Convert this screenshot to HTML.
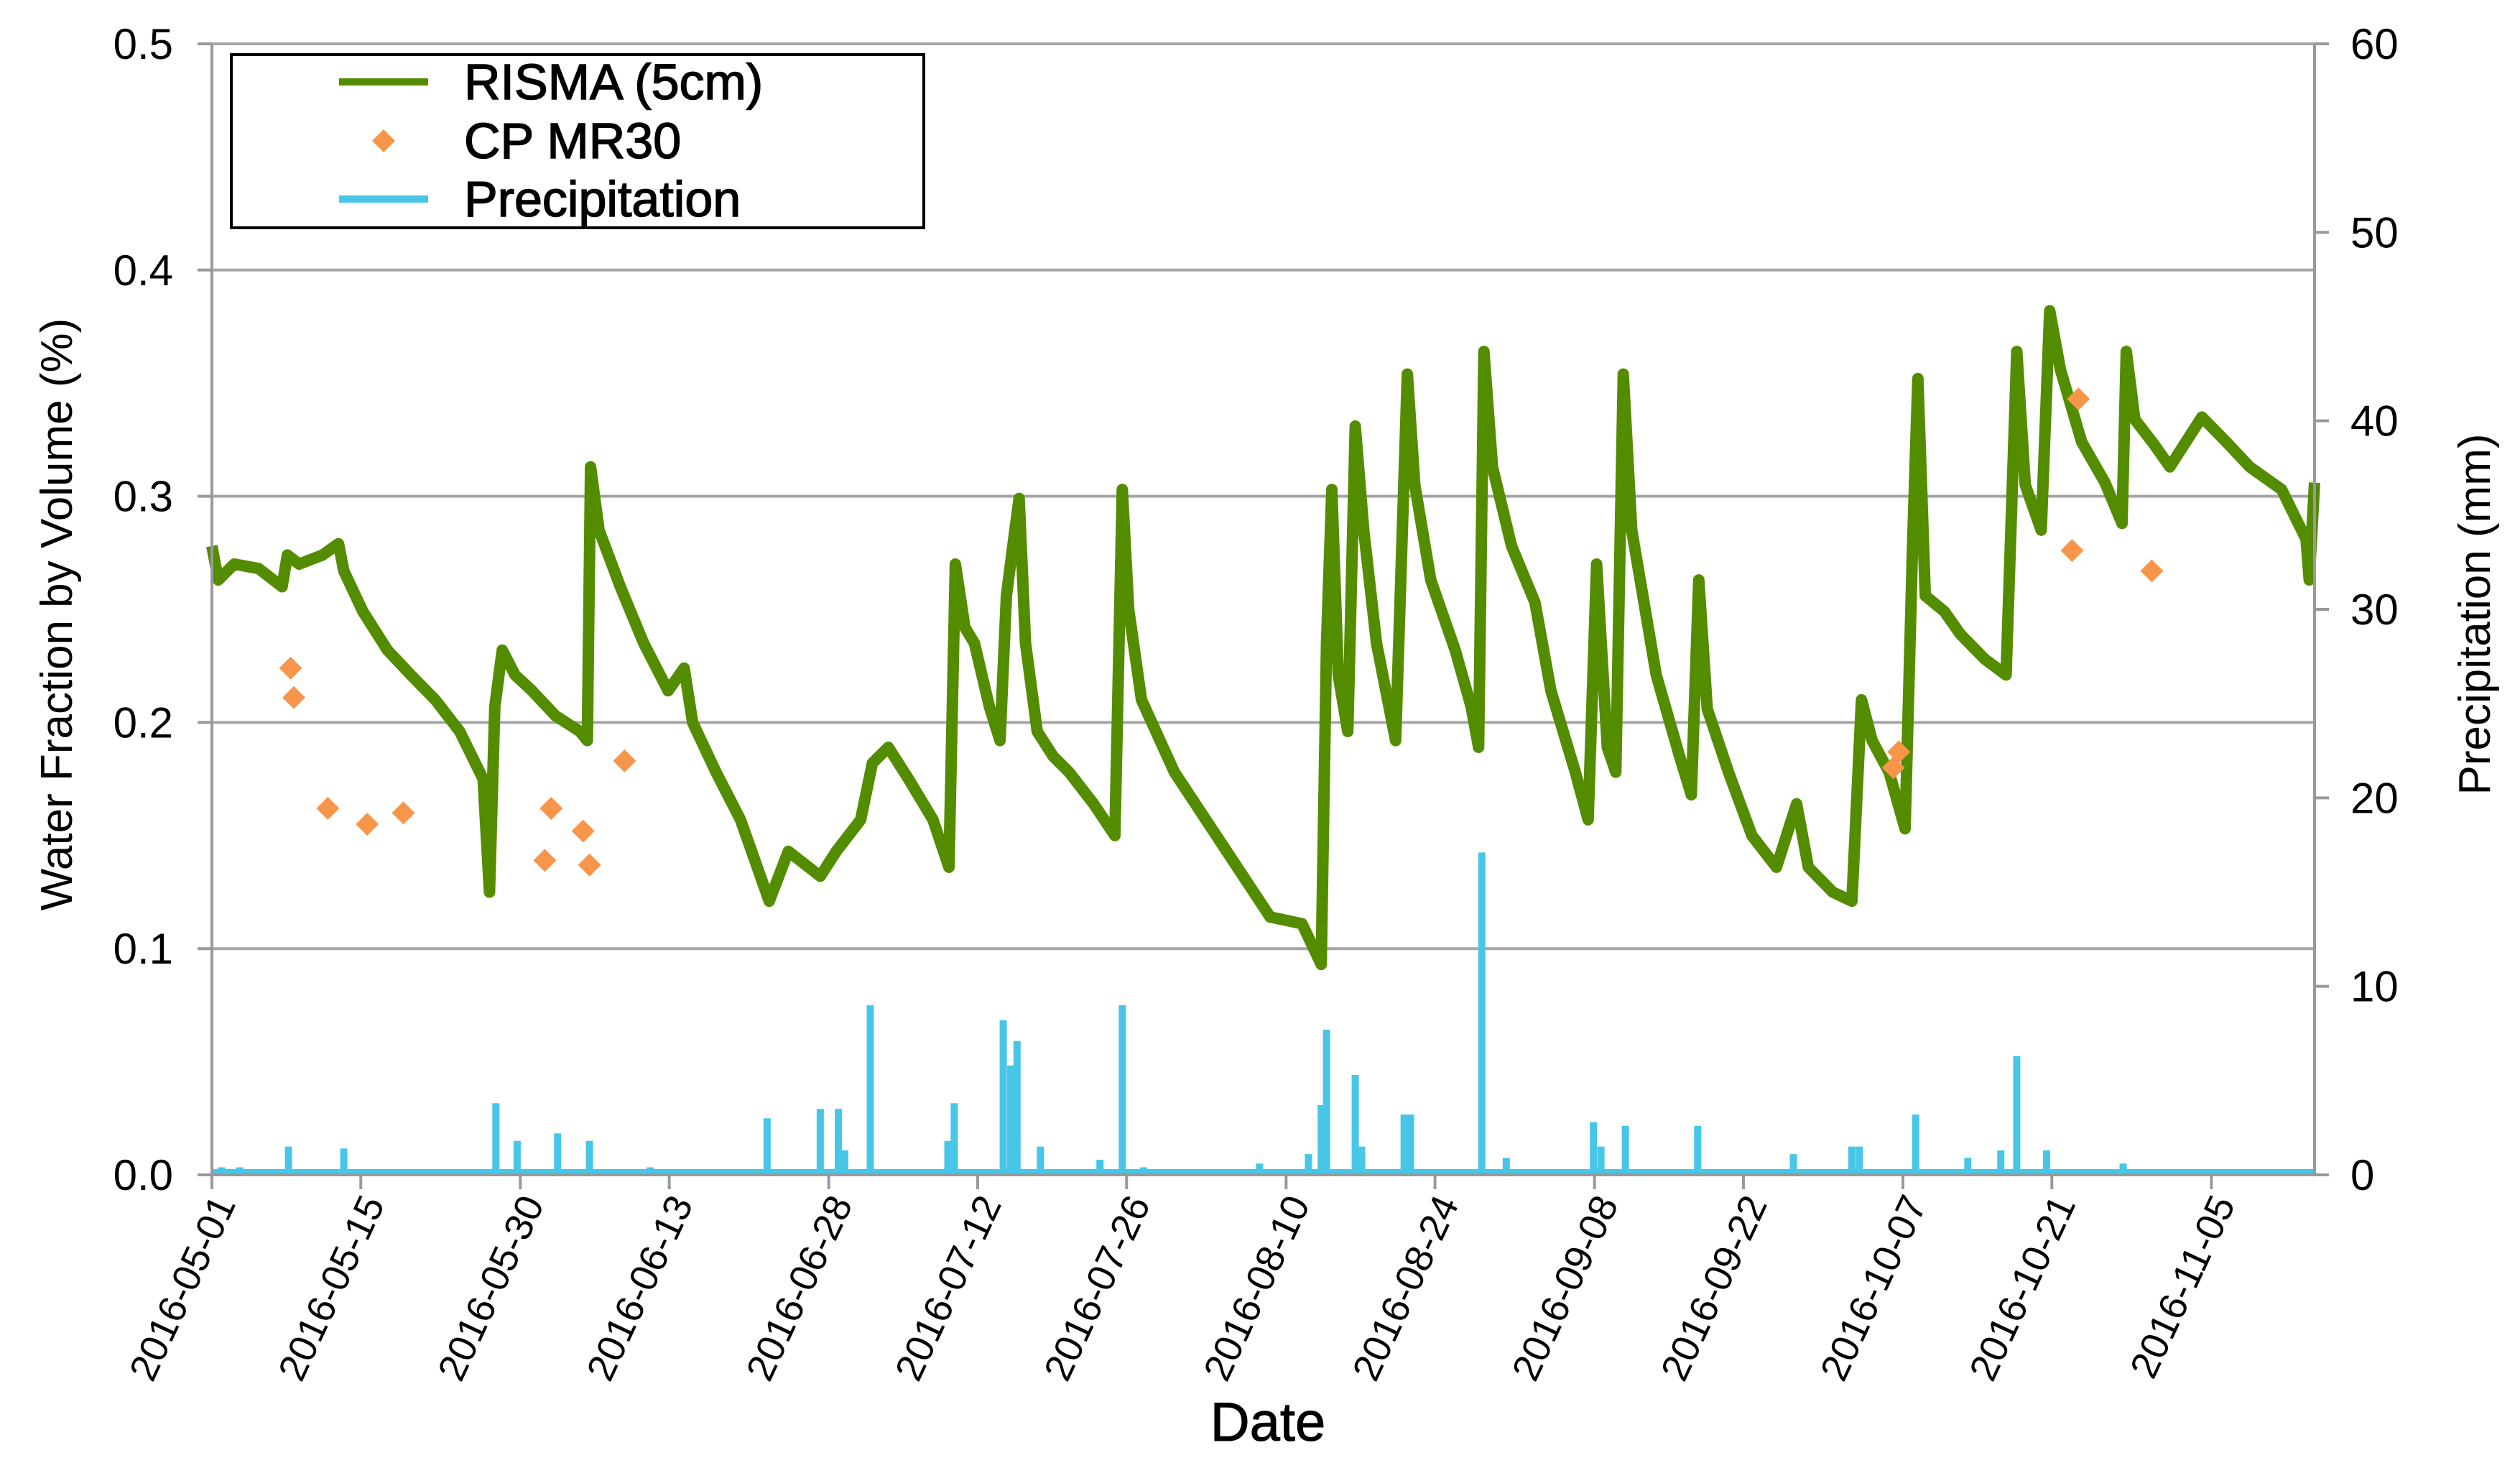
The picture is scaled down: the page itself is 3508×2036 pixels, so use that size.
<!DOCTYPE html>
<html><head><meta charset="utf-8"><style>
html,body{margin:0;padding:0;background:#fff;}
svg{display:block;font-family:"Liberation Sans",Arial,sans-serif;}
</style></head><body>
<svg id="chart" width="3508" height="2036" viewBox="0 0 3508 2036">
<g id="grid"></g>
<g id="precip"></g>
<g id="risma"></g>
<g id="cp"></g>
<g id="axes"></g>
<g>
<rect x="322" y="76" width="964" height="241" fill="#fff" stroke="#000" stroke-width="4"/>
<g><line x1="472" y1="114" x2="596" y2="114" stroke="#548c00" stroke-width="10"/><text x="646" y="138" font-size="70" stroke="#000" stroke-width="1.5">RISMA (5cm)</text></g>
<g><polygon points="534,180 550,196 534,212 518,196" fill="#f7964a"/><text x="646" y="220" font-size="70" stroke="#000" stroke-width="1.5">CP MR30</text></g>
<g><line x1="472" y1="277" x2="596" y2="277" stroke="#47c6e8" stroke-width="10"/><text x="646" y="301" font-size="70" stroke="#000" stroke-width="1.5">Precipitation</text></g>
</g>
<text x="0" y="0" font-size="62" text-anchor="middle" transform="translate(100,855) rotate(-90)">Water Fraction by Volume (%)</text>
<text x="0" y="0" font-size="62" text-anchor="middle" transform="translate(3466,855) rotate(-90)">Precipitation (mm)</text>
<text x="1765" y="2005" font-size="76" text-anchor="middle" stroke="#000" stroke-width="1">Date</text>
</svg>
<script>
const risDays=[0,0.6,2.1,4.4,6.6,7.1,8.2,10.4,11.9,12.4,14.2,16.5,18.7,21.0,23.3,25.5,26.1,26.6,27.3,28.5,30.1,32.3,34.6,35.3,35.6,36.4,38.4,40.6,42.9,44.4,45.2,47.4,49.7,52.4,54.2,57.2,58.7,61.0,62.1,63.6,65.5,67.8,69.3,69.9,70.8,71.7,73.1,74.1,74.7,75.5,75.9,76.5,77.6,79.1,80.6,82.9,84.9,85.6,86.2,87.4,90.5,95.0,99.5,102.5,104.3,104.8,105.3,105.9,106.8,107.5,108.3,109.5,111.3,112.4,113.1,114.6,116.9,118.4,119.1,119.6,120.4,122.2,124.4,125.9,128.2,129.4,130.2,131.2,132.0,132.7,133.5,135.8,138.0,139.1,139.8,140.6,142.6,144.8,147.1,149.0,150.1,152.4,154.2,155.1,156.1,157.7,159.2,159.9,160.4,161.1,162.9,164.4,166.7,168.7,169.7,170.5,172.0,172.8,173.8,175.8,178.0,179.6,180.0,180.8,182.6,184.1,187.1,189.4,191.6,194.6,196.9,197.2,197.7];
const risVals=[0.278,0.263,0.270,0.268,0.260,0.274,0.270,0.274,0.279,0.267,0.249,0.232,0.221,0.210,0.196,0.175,0.125,0.207,0.232,0.221,0.214,0.203,0.196,0.192,0.313,0.285,0.260,0.235,0.214,0.224,0.200,0.178,0.157,0.121,0.143,0.132,0.143,0.157,0.182,0.189,0.175,0.157,0.136,0.270,0.242,0.235,0.207,0.192,0.256,0.285,0.299,0.235,0.196,0.185,0.178,0.164,0.150,0.303,0.250,0.210,0.178,0.146,0.114,0.111,0.093,0.235,0.303,0.221,0.196,0.331,0.285,0.235,0.192,0.354,0.305,0.263,0.232,0.207,0.189,0.364,0.313,0.278,0.253,0.214,0.178,0.157,0.270,0.189,0.178,0.354,0.285,0.221,0.185,0.168,0.263,0.206,0.178,0.150,0.136,0.164,0.136,0.125,0.121,0.210,0.192,0.178,0.153,0.278,0.352,0.256,0.249,0.239,0.228,0.221,0.364,0.305,0.285,0.382,0.356,0.324,0.306,0.288,0.364,0.334,0.323,0.313,0.335,0.324,0.313,0.303,0.281,0.263,0.306];
const cpDays=[7.4,7.7,10.9,14.6,18.0,31.3,31.9,34.9,35.5,38.8,158.1,158.6,174.9,175.5,182.4];
const cpVals=[0.224,0.211,0.162,0.155,0.160,0.139,0.162,0.152,0.137,0.183,0.180,0.187,0.276,0.343,0.267];
const prDays=[0.9,2.6,7.2,12.4,26.7,28.7,32.5,35.5,41.2,52.2,57.2,58.9,59.5,61.9,69.2,69.8,74.4,75.1,75.7,77.9,83.5,85.6,87.6,98.5,103.1,104.3,104.8,107.5,108.1,112.1,112.7,119.4,121.7,129.9,130.6,132.9,139.7,148.7,154.2,154.9,160.2,165.1,168.2,169.7,172.5,179.7,187.6];
const prVals=[0.4,0.4,1.5,1.4,3.8,1.8,2.2,1.8,0.4,3.0,3.5,3.5,1.3,9.0,1.8,3.8,8.2,5.8,7.1,1.5,0.8,9.0,0.4,0.6,1.1,3.7,7.7,5.3,1.5,3.2,3.2,17.1,0.9,2.8,1.5,2.6,2.6,1.1,1.5,1.5,3.2,0.9,1.3,6.3,1.3,0.6,0.3];
const yTicks=[0,0.1,0.2,0.3,0.4,0.5];
const yTickLabels=["0.0","0.1","0.2","0.3","0.4","0.5"];
const y2Ticks=[0,10,20,30,40,50,60];
const xTickDays=[0,14,29,43,58,72,86,101,115,130,144,159,173,188];
const xTickLabels=["2016-05-01","2016-05-15","2016-05-30","2016-06-13","2016-06-28","2016-07-12","2016-07-26","2016-08-10","2016-08-24","2016-09-08","2016-09-22","2016-10-07","2016-10-21","2016-11-05"];

const L=295,R=3222,T=61,B=1635;
const xS=d=>L+d*(R-L)/197.7;
const yS=v=>B-(v/0.5)*(B-T);
const y2S=v=>B-(v/60)*(B-T);
const NS="http://www.w3.org/2000/svg";
function mk(tag,attrs,parent){const e=document.createElementNS(NS,tag);for(const k in attrs)e.setAttribute(k,attrs[k]);parent.appendChild(e);return e;}
const grid=document.getElementById('grid'),axes=document.getElementById('axes');
yTicks.forEach((v,i)=>{
  if(v>0){const g=mk('line',{x1:L,x2:R,y1:yS(v),y2:yS(v),stroke:'#a6a6a6','stroke-width':4},grid);
  
  }
  const t=mk('line',{x1:L-20,x2:L,y1:yS(v),y2:yS(v),stroke:'#999','stroke-width':4},axes);
  
  
  const tx=mk('text',{x:241,y:yS(v)+21,'font-size':60,'text-anchor':'end'},axes);
  tx.textContent=yTickLabels[i];
  
  
});
y2Ticks.forEach(v=>{
  const t=mk('line',{x1:R,x2:R+20,y1:y2S(v),y2:y2S(v),stroke:'#999','stroke-width':4},axes);
  
  
  const tx=mk('text',{x:3272,y:y2S(v)+21,'font-size':60},axes);
  tx.textContent=String(v);
  
  
});
const la=mk('line',{x1:L,x2:L,y1:T,y2:B,stroke:'#999','stroke-width':4},axes);


const ra=mk('line',{x1:R,x2:R,y1:T,y2:B,stroke:'#999','stroke-width':4},axes);


const xa=mk('line',{x1:L,x2:R,y1:B,y2:B,stroke:'#999','stroke-width':4},axes);


xTickDays.forEach((d,i)=>{
  const x=xS(d);
  const t=mk('line',{x1:x,x2:x,y1:B,y2:B+20,stroke:'#999','stroke-width':4},axes);
  
  
  const tx=mk('text',{x:0,y:0,'font-size':54,'text-anchor':'end',transform:`translate(${x+34},${B+40}) rotate(-65)`},axes);
  tx.textContent=xTickLabels[i];
  
  
});
const pg=document.getElementById('precip');
const base=mk('line',{x1:L,x2:R,y1:B-4,y2:B-4,stroke:'#47c6e8','stroke-width':8},pg);


prDays.forEach((d,i)=>{
  const x=xS(d),y=y2S(prVals[i]);
  const r=mk('rect',{x:x-5,y:y,width:10,height:B-y,fill:'#47c6e8'},pg);
  
  
});
const rg=document.getElementById('risma');
const pts=risDays.map((d,i)=>xS(d).toFixed(1)+','+yS(risVals[i]).toFixed(1)).join(' ');
const pl=mk('polyline',{points:pts,fill:'none',stroke:'#548c00','stroke-width':16,'stroke-linejoin':'round'},rg);


const cg=document.getElementById('cp');
cpDays.forEach((d,i)=>{
  const x=xS(d),y=yS(cpVals[i]);
  const p=mk('polygon',{points:`${x},${y-16} ${x+16},${y} ${x},${y+16} ${x-16},${y}`,fill:'#f7964a'},cg);
  
  
});
</script>
</body></html>
